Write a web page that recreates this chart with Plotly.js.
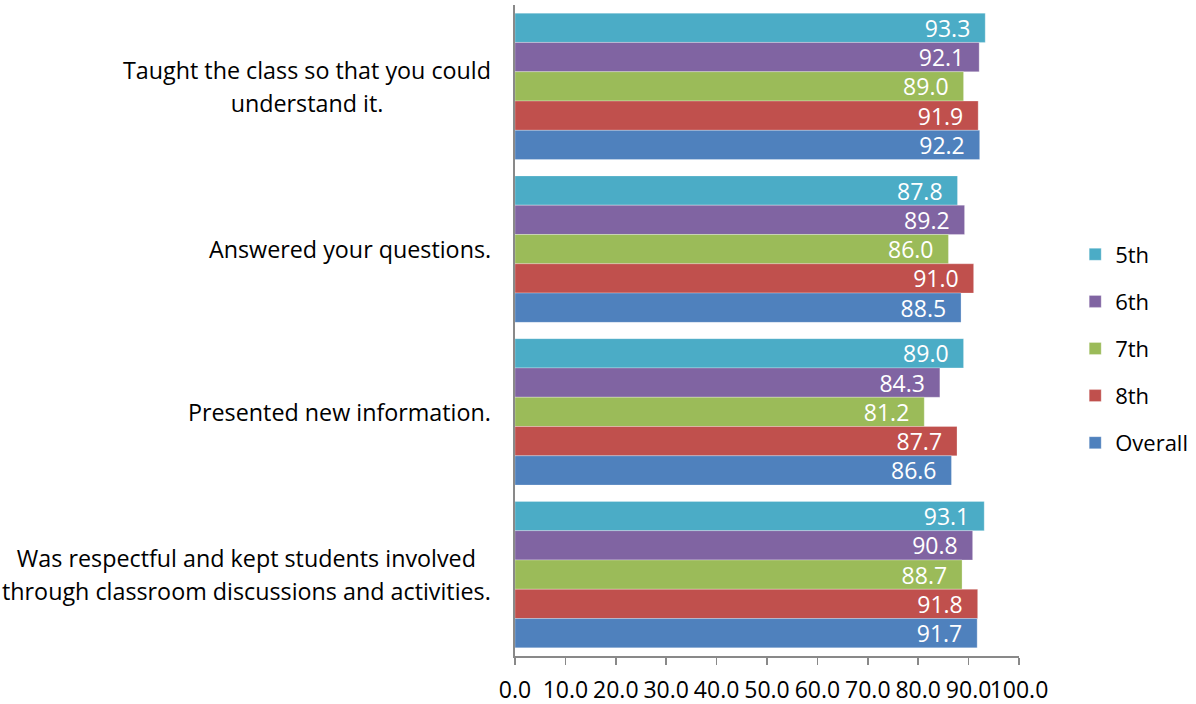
<!DOCTYPE html>
<html>
<head>
<meta charset="utf-8">
<script src="https://cdn.plot.ly/plotly-3.0.1.min.js"></script>
<style>
  html, body { margin: 0; padding: 0; background: #ffffff; }
  #chart { width: 1196px; height: 704px; }
</style>
</head>
<body>
<div id="chart"></div>
<script>
// Survey items (top to bottom)
const categories = [
  "Taught the class so that you could understand it.",
  "Answered your questions.",
  "Presented new information.",
  "Was respectful and kept students involved through classroom discussions and activities."
];
// Item labels as displayed, one entry per line
const categoryLines = [
  ["Taught the class so that you could", "understand it."],
  ["Answered your questions."],
  ["Presented new information."],
  ["Was respectful and kept students involved", "through classroom discussions and activities."]
];

const seriesNames = ["5th", "6th", "7th", "8th", "Overall"];
const seriesColors = ["#4BACC6", "#8064A2", "#9BBB59", "#C0504D", "#4F81BD"];

const grade5 = [93.3, 87.8, 89.0, 93.1];
const grade6 = [92.1, 89.2, 84.3, 90.8];
const grade7 = [89.0, 86.0, 81.2, 88.7];
const grade8 = [91.9, 91.0, 87.7, 91.8];
const overall = [92.2, 88.5, 86.6, 91.7];

const seriesValues = [grade5, grade6, grade7, grade8, overall];

const xTickValues = [0, 10, 20, 30, 40, 50, 60, 70, 80, 90, 100];

const FONT = "'Open Sans', 'Noto Sans', sans-serif";
const PAD = "\u00a0\u00a0";

const traces = seriesNames.map((name, i) => ({
  type: "bar",
  orientation: "h",
  name: name,
  legendgroup: name,
  x: seriesValues[i],
  y: categories,
  marker: { color: seriesColors[i], line: { color: "rgba(255,255,255,0.35)", width: 0.8 } },
  text: seriesValues[i].map(v => v.toFixed(1) + PAD),
  textposition: "inside",
  insidetextanchor: "end",
  textangle: 0,
  constraintext: "none",
  textfont: { family: FONT, size: 23, color: "#ffffff" },
  hoverinfo: "x+name"
}));

const annotations = categories.map((c, i) => ({
  xref: "paper",
  yref: "y",
  x: 0,
  y: c,
  xanchor: "right",
  yanchor: "middle",
  xshift: -22,
  align: "center",
  showarrow: false,
  font: { family: FONT, size: 25, color: "#000000" },
  text: categoryLines[i].map(l => '<span style="font-size:23.3px">' + l + '</span>').join("<br>")
}));

const layout = {
  width: 1196,
  height: 704,
  margin: { l: 515, r: 177, t: 5, b: 48, autoexpand: false },
  paper_bgcolor: "#ffffff",
  plot_bgcolor: "#ffffff",
  barmode: "group",
  bargap: 0.1,
  bargroupgap: 0,
  font: { family: FONT, color: "#000000" },
  xaxis: {
    range: [0, 100],
    tickvals: xTickValues,
    ticktext: xTickValues.map(v => v.toFixed(1)),
    tickangle: 0,
    ticks: "outside",
    ticklen: 7,
    tickwidth: 1.5,
    tickcolor: "#898989",
    ticklabelstandoff: 6,
    showline: true,
    linecolor: "#898989",
    linewidth: 1.5,
    showgrid: false,
    zeroline: false,
    tickfont: { family: FONT, size: 23, color: "#000000" },
    fixedrange: true
  },
  yaxis: {
    type: "category",
    autorange: "reversed",
    showticklabels: false,
    ticks: "",
    showline: true,
    linecolor: "#898989",
    linewidth: 2,
    showgrid: false,
    zeroline: false,
    fixedrange: true
  },
  legend: {
    xref: "container",
    yref: "container",
    x: 0.899,
    xanchor: "left",
    y: 0.505,
    yanchor: "middle",
    traceorder: "grouped",
    tracegroupgap: 15.5,
    font: { family: FONT, size: 22, color: "#000000" },
    bgcolor: "rgba(0,0,0,0)"
  },
  annotations: annotations,
  showlegend: true
};

Plotly.newPlot("chart", traces, layout, { displayModeBar: false, staticPlot: true });
</script>
</body>
</html>
